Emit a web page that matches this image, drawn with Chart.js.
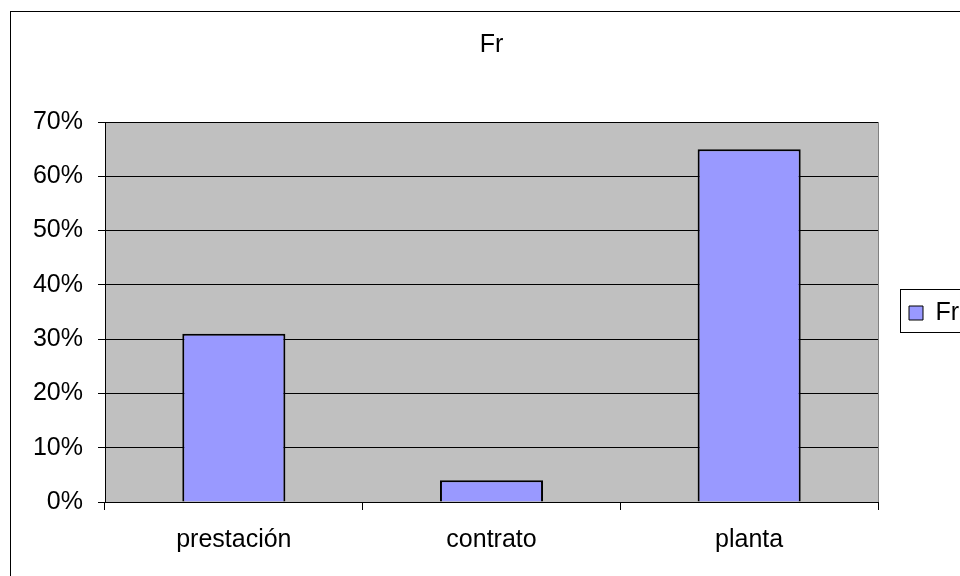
<!DOCTYPE html>
<html>
<head>
<meta charset="utf-8">
<script src="https://cdn.jsdelivr.net/npm/chart.js@4"></script>
<style>
  body { margin: 0; background: #fff; }
  canvas { display: block; }
</style>
</head>
<body>
<canvas id="myBarChart" width="960" height="576"></canvas>
<script>
// chart data
const categories = ["prestación", "contrato", "planta"];
const frValues = [31, 4, 65];   // percent
const seriesName = "Fr";

const FONT = "'Liberation Sans', Arial, sans-serif";

// gray plot area, plot border on the right, outer frame, legend frame
const excelLook = {
  id: 'excelLook',
  beforeDraw(chart) {
    const { ctx, chartArea } = chart;
    ctx.save();
    ctx.fillStyle = '#C0C0C0';
    ctx.fillRect(chartArea.left, chartArea.top, chartArea.right - chartArea.left, chartArea.bottom - chartArea.top);
    ctx.restore();
  },
  afterDraw(chart) {
    const { ctx, chartArea } = chart;
    ctx.save();
    ctx.strokeStyle = '#808080';
    ctx.lineWidth = 1;
    ctx.beginPath();
    ctx.moveTo(Math.round(chartArea.right) + 0.5, chartArea.top);
    ctx.lineTo(Math.round(chartArea.right) + 0.5, chartArea.bottom);
    ctx.stroke();

    // outer frame (right and bottom edges fall outside the picture)
    ctx.strokeStyle = '#000';
    ctx.strokeRect(10.5, 11.5, 1000, 700);

    // legend frame
    const hb = chart.legend.legendHitBoxes[0];
    if (hb) {
      ctx.strokeRect(Math.round(hb.left) - 8.5, Math.round(hb.top) - 11.5, 100, 43);
    }
    ctx.restore();
  }
};

function setupBarChart() {
  var canvas = document.getElementById("myBarChart");
  if (!canvas) {
    console.error("Canvas for myBarChart not found!");
    return null;
  }
  var ctx = canvas.getContext("2d");

  return new Chart(ctx, {
    type: 'bar',
    data: {
      labels: categories,
      datasets: [{
        label: seriesName,
        data: frValues,
        backgroundColor: '#9999FF',
        borderColor: '#000000',
        borderWidth: 2,
        categoryPercentage: 1.0,
        barPercentage: 0.4
      }]
    },
    options: {
      responsive: false,
      animation: false,
      layout: { padding: { top: 0, left: 23, bottom: 0, right: 0 } },
      scales: {
        x: {
          grid: {
            offset: true,
            drawOnChartArea: false,
            color: '#000',
            tickLength: 8
          },
          border: { display: true, color: '#000', width: 1 },
          ticks: {
            color: '#000',
            padding: 15,
            maxRotation: 0,
            font: { family: FONT, size: 25 }
          },
          afterFit: function (scale) {
            scale.height = 74;
          }
        },
        y: {
          min: 0,
          max: 70,
          grid: {
            color: '#000',
            tickLength: 7
          },
          border: { display: true, color: '#000', width: 1 },
          ticks: {
            stepSize: 10,
            color: '#000',
            padding: 15,
            font: { family: FONT, size: 25 },
            callback: function (value) {
              return value + '%';
            }
          },
          afterFit: function (scale) {
            scale.width = 82;
          }
        }
      },
      plugins: {
        title: {
          display: true,
          text: seriesName,
          color: '#000',
          font: { family: FONT, size: 25, weight: 'normal' },
          padding: { top: 30, bottom: 62 }
        },
        legend: {
          position: 'right',
          maxWidth: 82,
          // empty title only pushes the entry down to the plot's middle
          title: {
            display: true,
            text: ' ',
            font: { size: 10, lineHeight: 1 },
            padding: { top: 20, bottom: 20 }
          },
          labels: {
            color: '#000',
            boxWidth: 14,
            boxHeight: 14,
            padding: 31,
            font: { family: FONT, size: 25 },
            generateLabels: function (chart) {
              const ds = chart.data.datasets[0];
              return [{
                text: ds.label,
                fillStyle: ds.backgroundColor,
                strokeStyle: '#000',
                fontColor: '#000',
                lineWidth: 1,
                hidden: false,
                datasetIndex: 0
              }];
            }
          }
        },
        tooltip: { enabled: false }
      }
    },
    plugins: [excelLook]
  });
}

const myBarChart = setupBarChart();
</script>
</body>
</html>
